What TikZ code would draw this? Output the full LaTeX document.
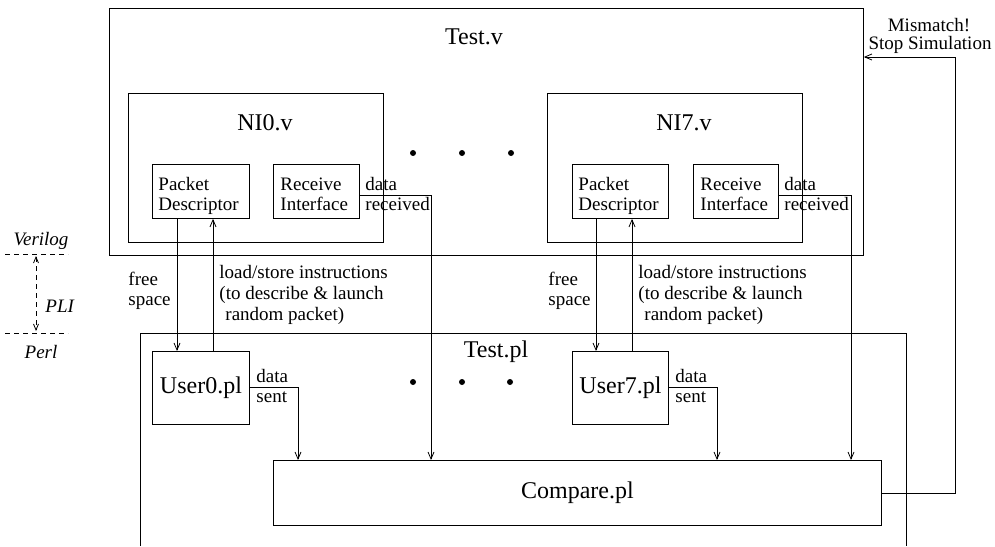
\documentclass[tikz,border=0pt]{standalone}
\usepackage{fontspec}
\setmainfont{Liberation Serif}
\usetikzlibrary{arrows.meta}
\begin{document}
\begin{tikzpicture}[x=1pt,y=-1pt,
  line width=0.9pt,
  arr/.style={-{Straight Barb[length=7pt,width=6pt,line width=0.8pt]}},
  twoarr/.style={{Straight Barb[length=6pt,width=5pt,line width=0.8pt]}-{Straight Barb[length=6pt,width=5pt,line width=0.8pt]}},
  dashline/.style={dash pattern=on 5pt off 4pt},
  boxed/.style={draw, inner sep=0pt, anchor=north west},
  small/.style={font=\fontsize{19}{20}\selectfont, inner sep=0pt, anchor=base west},
  smallc/.style={font=\fontsize{19}{20}\selectfont, inner sep=0pt, anchor=base},
  big/.style={font=\fontsize{24}{26}\selectfont, inner sep=0pt, anchor=base},
  ital/.style={font=\fontsize{19}{20}\selectfont\itshape, inner sep=0pt},
  dot/.style={circle, fill, inner sep=0pt, minimum size=6pt}
]
\useasboundingbox (0,0) rectangle (995,546);

% ---------- Verilog side ----------
\node[boxed, minimum width=754, minimum height=247] (testv) at (109,8) {};
\node[big] (testvlbl) at (474,44) {Test.v};

% network interface 0
\node[boxed, minimum width=255, minimum height=149] (ni0) at (128,93) {};
\node[big] (ni0lbl) at (265,130) {NI0.v};
\node[boxed, minimum width=97, minimum height=54] (pd0) at (152,164) {};
\node[small] (pd0a) at (158,190) {Packet};
\node[small] (pd0b) at (158,210) {Descriptor};
\node[boxed, minimum width=86, minimum height=54] (ri0) at (273,164) {};
\node[small] (ri0a) at (280,190) {Receive};
\node[small] (ri0b) at (280,210) {Interface};

% network interface 7
\node[boxed, minimum width=255, minimum height=149] (ni7) at (547,93) {};
\node[big] (ni7lbl) at (684,130) {NI7.v};
\node[boxed, minimum width=96, minimum height=54] (pd7) at (572,164) {};
\node[small] (pd7a) at (578,190) {Packet};
\node[small] (pd7b) at (578,210) {Descriptor};
\node[boxed, minimum width=85, minimum height=54] (ri7) at (693,164) {};
\node[small] (ri7a) at (700,190) {Receive};
\node[small] (ri7b) at (700,210) {Interface};

% ellipsis between interfaces
\node[dot] (d1) at (413,153) {};
\node[dot] (d2) at (462,153) {};
\node[dot] (d3) at (511,153) {};

% ---------- Perl side ----------
\draw (140,546) -- (140,333) -- (906,333) -- (906,546);
\node[big] (testpllbl) at (496,357) {Test.pl};

\node[boxed, minimum width=97, minimum height=73, font=\fontsize{24}{26}\selectfont] (user0) at (152,351) {User0.pl};
\node[boxed, minimum width=96, minimum height=73, font=\fontsize{24}{26}\selectfont] (user7) at (572,351) {User7.pl};
\node[boxed, minimum width=608, minimum height=65, font=\fontsize{24}{26}\selectfont] (cmp) at (273,460) {Compare.pl};

\node[dot] (e1) at (413,382) {};
\node[dot] (e2) at (462,382) {};
\node[dot] (e3) at (510,382) {};

% ---------- connectors, interface 0 ----------
\draw[arr] (177,0 |- pd0.south) -- (177,0 |- user0.north);
\draw[arr] (213,0 |- user0.north) -- (213,0 |- pd0.south);
\node[small] (fs0a) at (128,285) {free};
\node[small] (fs0b) at (128,305) {space};
\node[small] (ls0a) at (219,278) {load/store instructions};
\node[small] (ls0b) at (219,299) {(to describe \& launch};
\node[small] (ls0c) at (225,320) {random packet)};

\draw[arr] (ri0.east |- 0,195) -- (431,195) -- (431,0 |- cmp.north);
\node[small] (dr0a) at (365,190) {data};
\node[small] (dr0b) at (365,210) {received};

\draw[arr] (user0.east |- 0,387) -- (298,387) -- (298,0 |- cmp.north);
\node[small] (ds0a) at (256,382) {data};
\node[small] (ds0b) at (256,402) {sent};

% ---------- connectors, interface 7 ----------
\draw[arr] (596,0 |- pd7.south) -- (596,0 |- user7.north);
\draw[arr] (632,0 |- user7.north) -- (632,0 |- pd7.south);
\node[small] (fs7a) at (548,285) {free};
\node[small] (fs7b) at (548,305) {space};
\node[small] (ls7a) at (638,278) {load/store instructions};
\node[small] (ls7b) at (638,299) {(to describe \& launch};
\node[small] (ls7c) at (644,320) {random packet)};

\draw[arr] (ri7.east |- 0,195) -- (851,195) -- (851,0 |- cmp.north);
\node[small] (dr7a) at (784,190) {data};
\node[small] (dr7b) at (784,210) {received};

\draw[arr] (user7.east |- 0,387) -- (717,387) -- (717,0 |- cmp.north);
\node[small] (ds7a) at (675,382) {data};
\node[small] (ds7b) at (675,402) {sent};

% ---------- mismatch feedback ----------
\draw[arr] (cmp.east) -- (955,0 |- cmp.east) -- (955,57) -- (testv.east |- 0,57);
\node[smallc] (mm1) at (929,31) {Mismatch!};
\node[smallc] (mm2) at (930,49) {Stop Simulation};

% ---------- layer legend ----------
\coordinate (vl) at (5,254);
\coordinate (vr) at (68,254);
\coordinate (pl) at (5,333);
\coordinate (pr) at (68,333);
\draw[dashline] (vl) -- (vr);
\draw[dashline] (pl) -- (pr);
\draw[dashline, twoarr] (36,256) -- (36,331);
\node[ital, anchor=base] (verilog) at (41,245) {Verilog};
\node[ital, anchor=base west] (pli) at (45,312) {PLI};
\node[ital, anchor=base] (perl) at (41,358) {Perl};
\end{tikzpicture}
\end{document}
